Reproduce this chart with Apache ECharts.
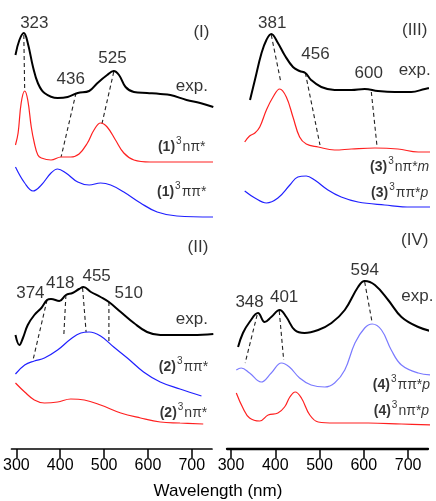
<!DOCTYPE html>
<html>
<head>
<meta charset="utf-8">
<script src="https://cdn.jsdelivr.net/npm/echarts@6/dist/echarts.min.js"></script>
<style>
html,body{margin:0;padding:0;background:#fff;}
#c{width:436px;height:501px;}
</style>
</head>
<body>
<div id="c"></div>
<script>
// ---- data: [wavelength (nm), intensity (arb. units, offset stacked)] ----
const tickValues = [300, 400, 500, 600, 700];
const xTitle = 'Wavelength (nm)';

// Panel I
const I_exp = [[298,394],[307,409],[317,416],[326,406],[338,382],[349,366],[364,356],[394,351],[417,352],[440,356],[466,358],[485,366],[507,374],[522,378],[534,374],[549,362],[568,357],[598,356],[628,355],[651,354],[688,349],[719,346],[749,342]];
const I_npi = [[298,304],[304,316],[311,346],[319,358],[326,349],[334,322],[341,306],[349,294],[357,291],[379,289],[402,292],[424,292],[443,295],[462,306],[477,319],[492,326],[507,322],[526,309],[545,296],[568,289],[605,287],[749,287]];
const I_pipi = [[298,282],[319,266],[338,258],[357,264],[379,276],[394,280],[413,276],[440,267],[466,264],[492,266],[515,264],[545,257],[583,246],[621,237],[666,233],[749,232]];
const I_links = [[[317,414],[319,359]],[[436,356],[402,292]],[[522,377],[495,325]]];

// Panel II
const II_exp = [[298,114],[307,104],[315,111],[326,124],[341,134],[357,141],[370,149],[379,150],[398,148],[413,154],[428,156],[443,160],[453,162],[470,157],[492,152],[511,147],[538,137],[568,126],[598,117],[628,114],[666,114],[703,114],[749,115]];
const II_pipi = [[298,75],[319,84],[341,88],[364,91],[394,99],[424,110],[447,116],[466,117],[492,113],[522,102],[553,91],[590,77],[628,67],[673,60],[722,53]];
const II_npi = [[298,66],[319,57],[341,49],[364,46],[394,47],[424,50],[455,49],[492,44],[538,36],[583,31],[628,27],[673,26],[726,25]];
const II_links = [[[370,149],[338,89]],[[413,154],[408,112]],[[451,161],[459,117]],[[511,147],[511,107]]];

// Panel III
const III_exp = [[343,349],[354,369],[369,396],[380,409],[391,415],[406,406],[421,394],[440,382],[455,378],[468,376],[481,369],[504,362],[534,359],[572,359],[602,360],[632,358],[670,357],[707,357],[738,360],[760,362]];
const III_npi = [[331,307],[342,313],[354,316],[365,322],[380,339],[395,352],[410,360],[425,352],[440,332],[455,312],[470,305],[497,302],[534,299],[572,300],[625,301],[677,300],[723,297],[760,297]];
const III_pipi = [[331,258],[354,251],[380,246],[406,251],[433,264],[451,272],[470,273],[489,269],[519,259],[549,252],[587,247],[647,244],[707,242],[760,242]];
const III_links = [[[391,414],[413,366]],[[468,376],[501,304]],[[617,357],[630,302]]];

// Panel IV
const IV_exp = [[316,102],[327,116],[342,127],[361,136],[376,127],[391,132],[410,139],[425,132],[444,119],[466,116],[497,119],[527,126],[557,139],[587,162],[602,168],[625,164],[655,149],[685,132],[723,122],[760,117]];
const IV_pipi = [[312,79],[323,81],[342,76],[368,67],[391,76],[414,86],[432,82],[455,71],[481,64],[512,62],[534,66],[557,79],[580,106],[602,121],[619,125],[640,119],[662,99],[685,84],[723,76],[760,74]];
const IV_npi = [[312,56],[327,41],[342,31],[365,28],[384,34],[406,36],[421,42],[433,52],[445,57],[459,51],[478,34],[497,27],[534,26],[610,26],[685,25],[760,24]];
const IV_links = [[[359,134],[332,86]],[[409,138],[419,89]],[[602,167],[619,126]]];

// Annotations: [wavelength, intensity, text]
const leftNotes = [
  [341,426,'323'],[424,370,'436'],[519,391,'525'],[700,363,'exp.'],[722,417,'(I)'],
  [332,156,'374'],[400,166,'418'],[483,173,'455'],[556,156,'510'],[700,130,'exp.'],[714,202,'(II)']
];
const leftStates = [
  [677,302,'{b|(1)}{s|3}{t|nπ*}'],[677,257,'{b|(1)}{s|3}{t|ππ*}'],
  [681,82,'{b|(2)}{s|3}{t|ππ*}'],[681,36,'{b|(2)}{s|3}{t|nπ*}']
];
const rightNotes = [
  [393,426,'381'],[491,395,'456'],[611,376,'600'],[715,379,'exp.'],[715,419,'(III)'],
  [342,147,'348'],[420,152,'401'],[602,179,'594'],[721,153,'exp.'],[715,209,'(IV)']
];
const rightStates = [
  [681,282,'{b|(3)}{s|3}{t|nπ*}{i|m}'],[681,256,'{b|(3)}{s|3}{t|ππ*}{i|p}'],
  [685,64,'{b|(4)}{s|3}{t|ππ*}{i|p}'],[685,38,'{b|(4)}{s|3}{t|nπ*}{i|p}']
];

const FONT = '"Liberation Sans", Arial, sans-serif';

function curve(g, data, color, width) {
  return {type:'line', xAxisIndex:g, yAxisIndex:g, data:data, smooth:0.4, showSymbol:false, clip:false,
    lineStyle:{color:color, width:width}, silent:true, z:3};
}
function links(g, pairs) {
  return pairs.map(p => ({type:'line', xAxisIndex:g, yAxisIndex:g, data:p, showSymbol:false, clip:false,
    lineStyle:{color:'#222', width:1.1, type:[4,3]}, silent:true, z:2}));
}
function notes(g, arr, size) {
  return {type:'scatter', xAxisIndex:g, yAxisIndex:g, symbolSize:0, silent:true, z:5,
    data: arr.map(a => ({value:[a[0],a[1]], name:a[2]})),
    label:{show:true, position:[0,0], align:'center', verticalAlign:'middle', color:'#000',
      fontFamily:FONT, fontSize:size, formatter:p => p.name}};
}
function states(g, arr) {
  return {type:'scatter', xAxisIndex:g, yAxisIndex:g, symbolSize:0, silent:true, z:5,
    data: arr.map(a => ({value:[a[0],a[1]], name:a[2]})),
    label:{show:true, position:[0,0], align:'center', verticalAlign:'middle', color:'#000',
      fontFamily:FONT, formatter:p => p.name,
      rich:{
        b:{fontFamily:FONT, fontSize:14, fontWeight:'bold', color:'#000'},
        s:{fontFamily:FONT, fontSize:10, color:'#000', padding:[0,1,12,1]},
        t:{fontFamily:FONT, fontSize:14, color:'#000'},
        i:{fontFamily:FONT, fontSize:14, fontStyle:'italic', color:'#000'}
      }}};
}

function xAxis(g, min, max, lw) {
  return {type:'value', gridIndex:g, min:min, max:max, position:'bottom',
    axisLine:{show:true, lineStyle:{color:'#000', width:lw}},
    axisTick:{show:true, length:9, inside:false, lineStyle:{color:'#000', width:1.5}, customValues:tickValues},
    axisLabel:{show:true, margin:9, color:'#000', fontSize:16, fontFamily:FONT, customValues:tickValues},
    splitLine:{show:false}};
}
function yAxis(g) {
  return {type:'value', gridIndex:g, min:0, max:449, show:false, splitLine:{show:false}};
}

const option = {
  animation:false,
  backgroundColor:'#fff',
  grid:[
    {left:10, width:202, top:0, bottom:52},
    {left:227, width:201, top:0, bottom:52}
  ],
  xAxis:[xAxis(0, 289, 746, 1.7), xAxis(1, 291, 745, 2.3)],
  yAxis:[yAxis(0), yAxis(1)],
  graphic:[{type:'text', left:'center', top:483, style:{text:xTitle, fill:'#000', font:'17px ' + FONT}}],
  series:[
    curve(0, I_exp, '#000', 2), curve(0, I_npi, '#ff2020', 1.2), curve(0, I_pipi, '#2020ff', 1.2),
    curve(0, II_exp, '#000', 2), curve(0, II_pipi, '#2020ff', 1.2), curve(0, II_npi, '#ff2020', 1.2),
    curve(1, III_exp, '#000', 2), curve(1, III_npi, '#ff2020', 1.2), curve(1, III_pipi, '#2020ff', 1.2),
    curve(1, IV_exp, '#000', 2), curve(1, IV_pipi, '#7a7aff', 1.2), curve(1, IV_npi, '#ff2020', 1.2),
    ...links(0, I_links), ...links(0, II_links), ...links(1, III_links), ...links(1, IV_links),
    notes(0, leftNotes, 17), notes(1, rightNotes, 17),
    states(0, leftStates), states(1, rightStates)
  ]
};
echarts.init(document.getElementById('c'), null, {renderer:'canvas'}).setOption(option);
</script>
</body>
</html>
